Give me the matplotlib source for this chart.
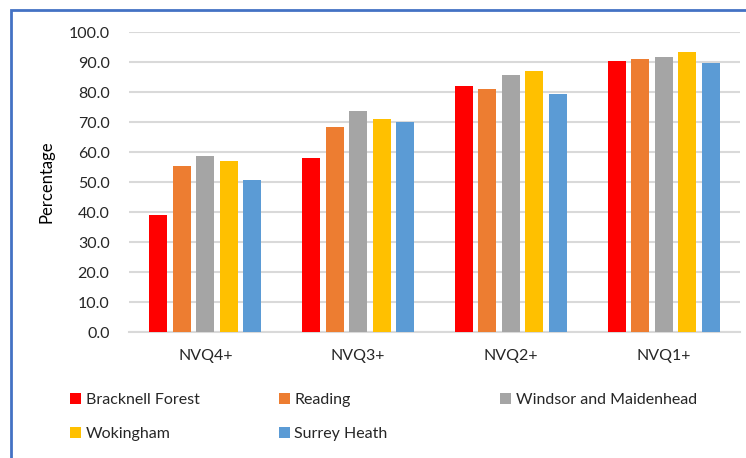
import matplotlib.pyplot as plt
from matplotlib.patches import Rectangle
import numpy as np

plt.rcParams['font.family'] = ['Lato', 'DejaVu Sans']

categories = ["NVQ4+", "NVQ3+", "NVQ2+", "NVQ1+"]
areas = ["Bracknell Forest", "Reading", "Windsor and Maidenhead", "Wokingham", "Surrey Heath"]
bracknell = [38.9, 57.9, 82.0, 90.3]
reading = [55.3, 68.3, 81.0, 91.0]
windsor = [58.7, 73.6, 85.7, 91.7]
wokingham = [56.9, 71.0, 86.9, 93.4]
surrey = [50.6, 70.0, 79.4, 89.7]
colors = ["#ff0000", "#ed7d31", "#a5a5a5", "#ffc000", "#5b9bd5"]

series = [bracknell, reading, windsor, wokingham, surrey]

fig = plt.figure(figsize=(7.46, 4.58), dpi=100)
ax = fig.add_axes([129/746, 1-332/458, 611/746, 300/458])

x = np.arange(len(categories))
step = 0.154
width = 0.118
for i, vals in enumerate(series):
    ax.bar(x + (i - 2) * step, vals, width, color=colors[i], label=areas[i], zorder=3)

ax.set_xlim(-0.5, len(categories) - 0.5)
ax.set_ylim(0, 100)
ax.set_yticks(np.arange(0, 101, 10))
ax.set_yticklabels(["%.1f" % v for v in np.arange(0, 101, 10)], fontsize=11.5, color="#262626")
ax.set_xticks(x)
ax.set_xticklabels(categories, fontsize=11.5, color="#262626")
ax.tick_params(axis="both", length=0)
ax.tick_params(axis="x", pad=12)
ax.tick_params(axis="y", pad=14)
ax.grid(axis="y", color="#d9d9d9", linewidth=1.5, zorder=0)
for s in ["top", "right", "left"]:
    ax.spines[s].set_visible(False)
ax.spines["bottom"].set_color("#d9d9d9")
ax.spines["bottom"].set_linewidth(1.5)
ax.set_ylabel("Percentage", fontsize=12, color="#000000", labelpad=10)

handles, labels = ax.get_legend_handles_labels()
leg_kw = dict(loc="upper left", frameon=False, fontsize=11.5, handlelength=0.65,
              handleheight=0.65, handletextpad=0.3, labelspacing=1.25, labelcolor="#262626")
order = [0, 3, 1, 4]
fig.legend([handles[i] for i in order], [labels[i] for i in order], ncol=2,
           bbox_to_anchor=(56/746, 1-379/458), columnspacing=5.0, **leg_kw)
fig.legend([handles[2]], [labels[2]], ncol=1,
           bbox_to_anchor=(486/746, 1-379/458), **leg_kw)

# blue frame
fig.patches.append(Rectangle((11/746, -0.05), 1.1, 1 - 10/458 + 0.05, transform=fig.transFigure,
                             fill=False, edgecolor="#4472c4", linewidth=2))

fig.savefig("out.png", dpi=100)
